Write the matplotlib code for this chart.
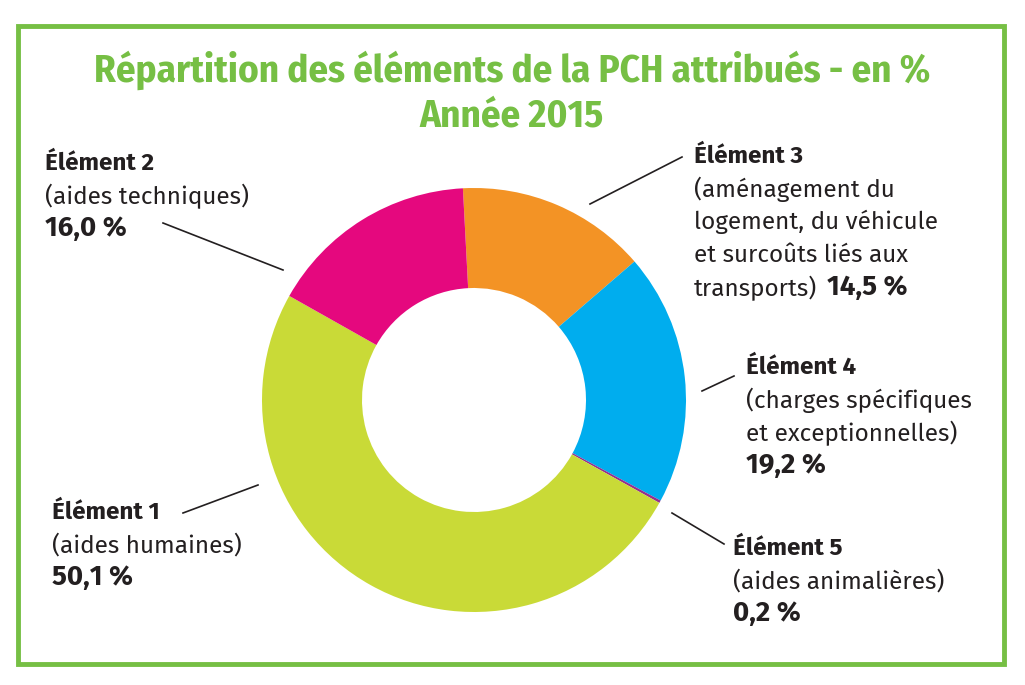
import matplotlib
matplotlib.use("Agg")
import matplotlib.pyplot as plt

# Data
elements = ["Élément 3", "Élément 4", "Élément 5", "Élément 1", "Élément 2"]
descriptions = [
    ["(aménagement du", "logement, du véhicule", "et surcoûts liés aux", "transports)"],
    ["(charges spécifiques", "et exceptionnelles)"],
    ["(aides animalières)"],
    ["(aides humaines)"],
    ["(aides techniques)"],
]
values = [14.5, 19.2, 0.2, 50.1, 16.0]
value_labels = ["14,5 %", "19,2 %", "0,2 %", "50,1 %", "16,0 %"]
colors = ["#F39325", "#00ADEE", "#93308F", "#C9DA37", "#E5087E"]

W, H = 1025, 685
fig = plt.figure(figsize=(W / 100, H / 100), dpi=100)
ax = fig.add_axes([0, 0, 1, 1])

def Y(y):
    return H - y

GREEN = "#76BF44"
TXT = "#231F20"
LABEL_FONT = ["Fira Sans", "Open Sans", "DejaVu Sans"]
TITLE_FONT = ["Fira Sans Condensed", "Roboto Condensed", "PT Sans Narrow",
              "Liberation Sans", "DejaVu Sans"]

# Donut
ax.pie(values, colors=colors, startangle=93, counterclock=False,
       center=(474, Y(400)), radius=212, frame=True,
       wedgeprops=dict(width=100, linewidth=0))
ax.set_xlim(0, W)
ax.set_ylim(0, H)
ax.set_aspect("equal")
ax.axis("off")

# Border
ax.add_patch(plt.Rectangle((18, Y(664)), 986, 638, fill=False,
                           edgecolor=GREEN, linewidth=3.5))

# Title
ax.text(512, Y(70), "Répartition des éléments de la PCH attribués - en %",
        ha="center", va="center", color=GREEN, fontsize=28,
        fontweight="bold", family=TITLE_FONT)
ax.text(512, Y(116), "Année 2015", ha="center", va="center", color=GREEN,
        fontsize=28, fontweight="bold", family=TITLE_FONT)

# Leader lines (pixel coords)
leaders = [
    ((590, 204), (682, 157)),
    ((702, 391), (734, 376)),
    ((672, 513), (724, 544)),
    ((183, 513), (258, 485)),
    ((163, 223), (283, 270)),
]
for (x0, y0), (x1, y1) in leaders:
    ax.plot([x0, x1], [Y(y0), Y(y1)], color=TXT, linewidth=1.2)

# Label positions: (x, first line y), line spacing
label_pos = [(694, 156), (746, 367), (733, 548), (52, 512), (45, 163)]
LS = 33
FS = 17.5
VFS = 20

fig.canvas.draw()
renderer = fig.canvas.get_renderer()

for i, name in enumerate(elements):
    x, y0 = label_pos[i]
    ax.text(x, Y(y0), name, ha="left", va="center", fontsize=FS,
            fontweight="bold", color=TXT, family=LABEL_FONT)
    lines = descriptions[i]
    for j, line in enumerate(lines):
        t = ax.text(x, Y(y0 + LS * (j + 1)), line, ha="left", va="center",
                    fontsize=FS, color=TXT, family=LABEL_FONT)
    if i == 0:
        bb = t.get_window_extent(renderer=renderer)
        inv = ax.transData.inverted()
        xr = inv.transform((bb.x1, bb.y0))[0]
        ax.text(xr + 10, Y(y0 + LS * len(lines) - 1), value_labels[i],
                ha="left", va="center", fontsize=VFS, fontweight="bold",
                color=TXT, family=LABEL_FONT)
    else:
        ax.text(x, Y(y0 + LS * (len(lines) + 1) - 1), value_labels[i],
                ha="left", va="center", fontsize=VFS, fontweight="bold",
                color=TXT, family=LABEL_FONT)

fig.savefig("out.png", dpi=100, facecolor="white")
